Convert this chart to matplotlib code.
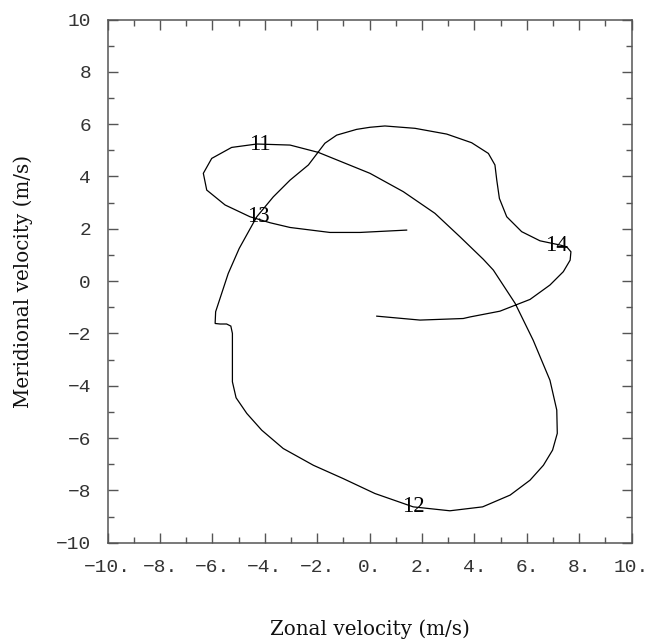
import matplotlib
matplotlib.use("Agg")
import matplotlib.pyplot as plt
from matplotlib.ticker import MultipleLocator, FixedLocator, FixedFormatter

# Hodograph of wind velocity (m/s)
zonal = [1.41, -0.37, -1.52, -3.04, -3.80, -4.57, -5.52, -6.22, -6.35, -6.03,
         -5.27, -4.31, -3.04, -1.96, 0.01, 1.28, 2.49, 3.45, 4.34, 4.72,
         5.55, 6.24, 6.88, 7.14, 7.16, 6.98, 6.63, 6.12, 5.36, 4.31,
         3.06, 1.66, 0.20, -1.01, -2.15, -3.30, -4.12, -4.69, -5.10, -5.24,
         -5.24, -5.24, -5.30, -5.46, -5.71, -5.90, -5.88, -5.65, -5.40, -4.98,
         -4.31, -3.68, -3.04, -2.34, -1.96, -1.71, -1.26, -0.50, 0.01, 0.58,
         1.73, 2.94, 3.89, 4.53, 4.78, 4.85, 4.95, 5.23, 5.80, 6.50,
         7.26, 7.52, 7.68, 7.65, 7.39, 6.88, 6.12, 4.97, 3.83, 3.57,
         1.92, 0.27]
meridional = [1.95, 1.86, 1.86, 2.05, 2.23, 2.46, 2.91, 3.48, 4.12, 4.69,
              5.11, 5.24, 5.20, 4.92, 4.12, 3.42, 2.59, 1.69, 0.83, 0.42,
              -0.85, -2.26, -3.79, -4.93, -5.82, -6.46, -7.04, -7.61, -8.18, -8.63,
              -8.78, -8.63, -8.12, -7.55, -7.04, -6.40, -5.70, -5.06, -4.46, -3.85,
              -3.02, -2.00, -1.72, -1.64, -1.64, -1.62, -1.17, -0.47, 0.29, 1.25,
              2.46, 3.22, 3.86, 4.44, 4.94, 5.27, 5.58, 5.80, 5.88, 5.93,
              5.84, 5.62, 5.29, 4.88, 4.44, 3.86, 3.16, 2.46, 1.89, 1.54,
              1.38, 1.31, 1.12, 0.80, 0.36, -0.15, -0.70, -1.15, -1.37, -1.43,
              -1.49, -1.34]

# Hour markers along the trace
hour_labels = ["11", "12", "13", "14"]
hour_u = [-4.19, 1.66, -4.25, 7.11]
hour_v = [5.24, -8.63, 2.46, 1.35]

x_ticks = [-10, -8, -6, -4, -2, 0, 2, 4, 6, 8, 10]
x_ticklabels = ["\u221210.", "\u22128.", "\u22126.", "\u22124.", "\u22122.",
                "0.", "2.", "4.", "6.", "8.", "10."]
y_ticks = [-10, -8, -6, -4, -2, 0, 2, 4, 6, 8, 10]
y_ticklabels = ["\u221210", "\u22128", "\u22126", "\u22124", "\u22122",
                "0", "2", "4", "6", "8", "10"]

W, H = 668, 641
fig = plt.figure(figsize=(W / 100, H / 100), dpi=100)
ax = fig.add_axes([107.7 / W, 1 - 542.7 / H, 524.0 / W, 523.2 / H])

ax.plot(zonal, meridional, color="black", lw=0.9, solid_joinstyle="miter")

for lab, u, v in zip(hour_labels, hour_u, hour_v):
    ax.text(u, v, lab, ha="center", va="center", fontsize=16.5,
            family="Liberation Serif", color="black")

ax.set_xlim(-10, 10)
ax.set_ylim(-10, 10)

axis_color = "#555555"
for sp in ax.spines.values():
    sp.set_color(axis_color)
    sp.set_linewidth(1.1)

ax.xaxis.set_major_locator(FixedLocator(x_ticks))
ax.xaxis.set_major_formatter(FixedFormatter(x_ticklabels))
ax.yaxis.set_major_locator(FixedLocator(y_ticks))
ax.yaxis.set_major_formatter(FixedFormatter(y_ticklabels))
ax.xaxis.set_minor_locator(MultipleLocator(1))
ax.yaxis.set_minor_locator(MultipleLocator(1))
ax.tick_params(which="both", direction="in", top=True, right=True,
               color=axis_color, width=1.0)
ax.tick_params(which="major", length=7.5, pad=12, labelsize=14,
               labelcolor="#333333")
ax.tick_params(which="minor", length=4.2)
for lbl in ax.get_xticklabels() + ax.get_yticklabels():
    lbl.set_family("Liberation Mono")

fig.text(369.7 / W, 1 - 635 / H, "Zonal velocity (m/s)", ha="center",
         va="baseline", fontsize=14.3, family="DejaVu Serif", color="#111111")
fig.text(23.5 / W, 1 - 281 / H, "Meridional velocity (m/s)", ha="center",
         va="center", rotation=90, fontsize=14.3, family="DejaVu Serif",
         color="#111111")

fig.savefig("out.png", dpi=100, facecolor="white")
